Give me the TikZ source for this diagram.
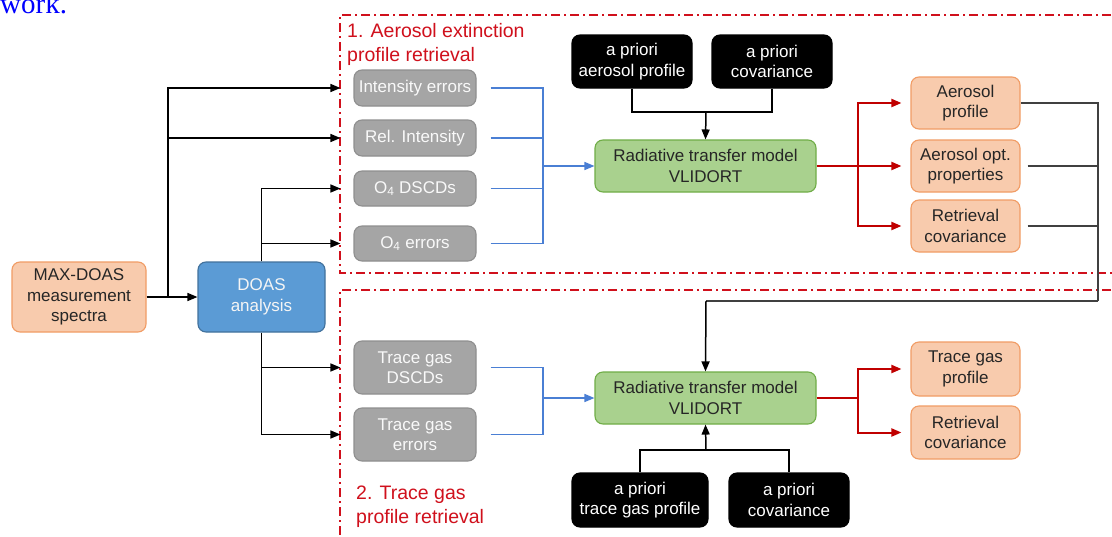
\documentclass[tikz,border=0pt]{standalone}
\usepackage{fontspec}
\setmainfont{Liberation Sans}
\newfontfamily\serifwork{Liberation Serif}
\usetikzlibrary{arrows.meta}
\definecolor{orfill}{HTML}{F8CBAD}
\definecolor{ordraw}{HTML}{F19C65}
\definecolor{grfill}{HTML}{A5A5A5}
\definecolor{grdraw}{HTML}{8F8F8F}
\definecolor{gnfill}{HTML}{A9D18E}
\definecolor{gndraw}{HTML}{70AD47}
\definecolor{blfill}{HTML}{5B9BD5}
\definecolor{bldraw}{HTML}{41719C}
\definecolor{blline}{HTML}{4A7FD4}
\definecolor{redline}{HTML}{C00000}
\definecolor{framered}{HTML}{D0101C}
\definecolor{darkline}{HTML}{404040}
\definecolor{txt}{HTML}{262626}
\tikzset{
  box/.style={rectangle, rounded corners=8pt, line width=1.1pt, inner sep=0pt, align=center,
    font=\fontsize{17}{20.5}\selectfont},
  outbox/.style={box, fill=orfill, draw=ordraw, text=txt},
  inbox/.style={box, fill=grfill, draw=grdraw, text=white!95!gray},
  rtmbox/.style={box, fill=gnfill, draw=gndraw, text=txt},
  doasbox/.style={box, fill=blfill, draw=bldraw, text=white!92!gray},
  priorbox/.style={box, fill=black, draw=black, text=white},
  blk/.style={line width=1.5pt, black},
  blkarrow/.style={blk, -{Triangle[length=10pt,width=8pt]}},
  blu/.style={line width=1.5pt, blline},
  bluarrow/.style={blu, -{Triangle[length=10pt,width=8pt]}},
  rd/.style={line width=2pt, redline},
  rdarrow/.style={rd, -{Triangle[length=10pt,width=8pt]}},
  dk/.style={line width=1.9pt, darkline},
  dkarrow/.style={line width=1.5pt, black, -{Triangle[length=10pt,width=8pt]}},
  frame/.style={line width=2.2pt, framered, dash pattern=on 9pt off 4pt on 2pt off 4pt},
  frametext/.style={anchor=north west, inner sep=0pt, align=left, text=framered,
    font=\fontsize{19.5}{24}\selectfont}
}
\begin{document}
\begin{tikzpicture}[x=1pt,y=-1pt]
\useasboundingbox (0,0) rectangle (1112,536);
\clip (0,0) rectangle (1112,536);
\fill[white] (0,0) rectangle (1112,536);

% caption fragment
\node[anchor=base west, inner sep=0pt, text=blue, font=\serifwork\fontsize{29}{29}\selectfont] (cap) at (0,13) {work.};

% frames
\draw[frame] (1130,15) -- (340,15) -- (340,273) -- (1130,273);
\draw[frame] (1130,290) -- (340,290) -- (340,560);
\node[frametext] (lab1) at (347,23) {1. Aerosol extinction\\profile retrieval};
\node[frametext] (lab2) at (356,486) {2. Trace gas\\profile retrieval};

% nodes
\node[outbox, minimum width=134pt, minimum height=70pt] (src) at (79,297) {MAX-DOAS\\measurement\\spectra};
\node[doasbox, minimum width=127pt, minimum height=70pt] (doas) at (261.5,297) {DOAS\\analysis};

\node[inbox, minimum width=122pt, minimum height=36pt] (ie) at (415,88) {Intensity errors};
\node[inbox, minimum width=122pt, minimum height=36pt] (ri) at (415,138) {Rel. Intensity};
\node[inbox, minimum width=122pt, minimum height=35pt] (od) at (415,188.5) {O\textsubscript{4} DSCDs};
\node[inbox, minimum width=122pt, minimum height=35pt] (oe) at (415,243.5) {O\textsubscript{4} errors};
\node[inbox, minimum width=122pt, minimum height=53pt] (td) at (415,367.5) {Trace gas\\DSCDs};
\node[inbox, minimum width=122pt, minimum height=53pt] (te) at (415,434.5) {Trace gas\\errors};

\node[rtmbox, minimum width=221pt, minimum height=52pt] (rtm1) at (705.5,166) {Radiative transfer model\\VLIDORT};
\node[rtmbox, minimum width=221pt, minimum height=52pt] (rtm2) at (705.5,398) {Radiative transfer model\\VLIDORT};

\node[priorbox, minimum width=120pt, minimum height=53pt] (apa) at (632,61.5) {a priori\\aerosol profile};
\node[priorbox, minimum width=120pt, minimum height=53pt] (apc1) at (772,61.5) {a priori\\covariance};
\node[priorbox, minimum width=136pt, minimum height=54pt] (apt) at (640,500) {a priori\\trace gas profile};
\node[priorbox, minimum width=120pt, minimum height=54pt] (apc2) at (789,500) {a priori\\covariance};

\node[outbox, minimum width=109pt, minimum height=52pt] (ap) at (965.5,103) {Aerosol\\profile};
\node[outbox, minimum width=109pt, minimum height=52pt] (aop) at (965.5,166) {Aerosol opt.\\properties};
\node[outbox, minimum width=109pt, minimum height=52pt] (rc1) at (965.5,226) {Retrieval\\covariance};
\node[outbox, minimum width=109pt, minimum height=54pt] (tgp) at (965.5,369) {Trace gas\\profile};
\node[outbox, minimum width=109pt, minimum height=53pt] (rc2) at (965.5,432.5) {Retrieval\\covariance};

% junction coordinates
\coordinate (b1) at (168,297);
\coordinate (bus1) at (543,166);
\coordinate (bus2) at (543,398);
\coordinate (j1) at (706,112);
\coordinate (j2) at (706,450);
\coordinate (rb1) at (858,166);
\coordinate (rb2) at (858,398);
\coordinate (r1) at (1098,301);
\coordinate (r2) at (706,301);

% black inputs
\draw[blkarrow] (src.east) -- (doas.west);
\draw[blkarrow] (b1) |- ([xshift=-13pt]ie.west);
\draw[blkarrow] (b1) |- ([xshift=-13pt]ri.west);
\draw[blkarrow] (doas.north) |- ([xshift=-13pt]od.west);
\draw[blkarrow] (doas.north) |- ([xshift=-13pt]oe.west);
\draw[blkarrow] (doas.south) |- ([xshift=-13pt]td.west);
\draw[blkarrow] (doas.south) |- ([xshift=-13pt]te.west);

% blue connectors
\draw[blu] ([xshift=14pt]ie.east) -| (bus1);
\draw[blu] ([xshift=14pt]ri.east) -| (bus1);
\draw[blu] ([xshift=14pt]od.east) -| (bus1);
\draw[blu] ([xshift=14pt]oe.east) -| (bus1);
\draw[bluarrow] (bus1) -- (rtm1.west);
\draw[blu] ([xshift=14pt]td.east) -| (bus2);
\draw[blu] ([xshift=14pt]te.east) -| (bus2);
\draw[bluarrow] (bus2) -- (rtm2.west);

% a priori connectors
\draw[blk] (apa.south) |- (j1);
\draw[blk] (apc1.south) |- (j1);
\draw[blkarrow] (j1) -- (rtm1.north);
\draw[blk] (apt.north) |- (j2);
\draw[blk] (apc2.north) |- (j2);
\draw[blkarrow] (j2) -- (rtm2.south);

% red outputs
\draw[rd] (rtm1.east) -- (rb1);
\draw[rdarrow] (rb1) |- ([xshift=-9pt]ap.west);
\draw[rdarrow] (rb1) |- ([xshift=-9pt]aop.west);
\draw[rdarrow] (rb1) |- ([xshift=-9pt]rc1.west);
\draw[rd] (rtm2.east) -- (rb2);
\draw[rdarrow] (rb2) |- ([xshift=-9pt]tgp.west);
\draw[rdarrow] (rb2) |- ([xshift=-9pt]rc2.west);

% feedback to trace gas retrieval
\draw[dk] (ap.east) -| (r1);
\draw[dk] ([xshift=7pt]aop.east) -- (aop.east -| r1);
\draw[dk] ([xshift=7pt]rc1.east) -- (rc1.east -| r1);
\draw[dk] (r1) -- (r2);
\draw[dkarrow] (r2) -- (rtm2.north);
\end{tikzpicture}
\end{document}
